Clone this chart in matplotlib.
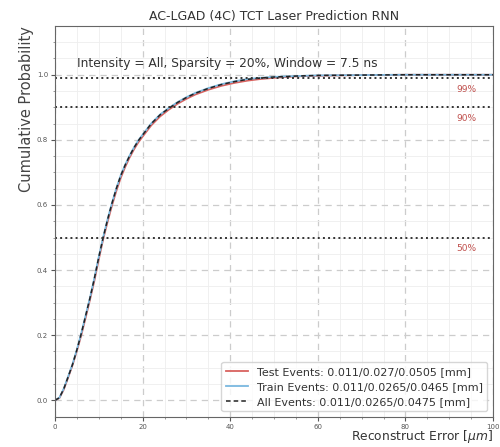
import matplotlib
matplotlib.use("Agg")
import matplotlib.pyplot as plt
import numpy as np

# Data (error in um, cumulative probability)
err_all = [0, 1, 2, 3, 4, 5, 6, 7, 8, 9, 10, 11, 12, 13, 14, 15, 16, 17, 18, 19, 20,
           22, 24, 26, 28, 30, 32, 35, 38, 41, 44, 47, 50, 55, 60, 70, 80, 100]
cdf_all = [0, 0.008, 0.035, 0.072, 0.11, 0.155, 0.205, 0.26, 0.315, 0.375, 0.44, 0.5,
           0.555, 0.605, 0.65, 0.69, 0.722, 0.75, 0.775, 0.797, 0.815, 0.85, 0.877,
           0.897, 0.915, 0.93, 0.943, 0.958, 0.97, 0.979, 0.986, 0.99, 0.993, 0.996,
           0.998, 0.999, 1.0, 1.0]
cdf_test = [0, 0.007, 0.033, 0.07, 0.108, 0.152, 0.2, 0.254, 0.31, 0.368, 0.433, 0.495,
            0.548, 0.598, 0.643, 0.683, 0.716, 0.745, 0.77, 0.792, 0.81, 0.845, 0.872,
            0.893, 0.911, 0.926, 0.939, 0.954, 0.966, 0.975, 0.982, 0.987, 0.9905, 0.995,
            0.997, 0.999, 1.0, 1.0]
cdf_train = [0, 0.008, 0.036, 0.073, 0.111, 0.156, 0.206, 0.261, 0.316, 0.376, 0.441, 0.501,
             0.556, 0.606, 0.651, 0.691, 0.723, 0.751, 0.776, 0.798, 0.816, 0.851, 0.878,
             0.898, 0.916, 0.931, 0.944, 0.959, 0.971, 0.98, 0.987, 0.9905, 0.9935, 0.996,
             0.998, 0.999, 1.0, 1.0]

labels = ["Test Events: 0.011/0.027/0.0505 [mm]",
          "Train Events: 0.011/0.0265/0.0465 [mm]",
          "All Events: 0.011/0.0265/0.0475 [mm]"]
levels = [0.99, 0.9, 0.5]
level_labels = ["99%", "90%", "50%"]

fig = plt.figure(figsize=(5, 4.47), dpi=100)
ax = fig.add_axes([0.11, 0.068, 0.876, 0.874])

ax.plot(err_all, cdf_test, color="#d9625f", lw=1.3, label=labels[0])
ax.plot(err_all, cdf_train, color="#7ab8df", lw=1.3, label=labels[1])
ax.plot(err_all, cdf_all, color="#222222", lw=1.1, ls=(0, (3, 2)), label=labels[2])

for lv, lb in zip(levels, level_labels):
    ax.axhline(lv, color="#333333", ls=":", lw=1.4)
    ax.text(94, lv - 0.035, lb, color="#c0504d", fontsize=6.5, ha="center", va="center")

ax.set_xlim(0, 100)
ax.set_ylim(-0.05, 1.15)
ax.set_xticks([0, 20, 40, 60, 80, 100])
ax.set_yticks([0.0, 0.2, 0.4, 0.6, 0.8, 1.0])
ax.set_xticks(np.arange(0, 101, 5), minor=True)
ax.set_yticks(np.arange(0, 1.15, 0.05), minor=True)
ax.tick_params(axis="both", which="major", labelsize=5, colors="#555555", length=3, pad=2)
ax.tick_params(axis="both", which="minor", length=1.5, colors="#888888")
ax.grid(True, which="major", ls=(0, (5, 4)), color="#cccccc", lw=0.9)
ax.grid(True, which="minor", ls="-", color="#eeeeee", lw=0.6)
for s in ax.spines.values():
    s.set_color("#666666")

ax.set_title("AC-LGAD (4C) TCT Laser Prediction RNN", fontsize=9, color="#333333", pad=4)
ax.set_ylabel("Cumulative Probability", fontsize=10.5, color="#444444", loc="top", labelpad=2)
ax.set_xlabel("Reconstruct Error [$\\mu m$]", fontsize=8.8, color="#333333", loc="right", labelpad=-1)
ax.text(0.05, 0.905, "Intensity = All, Sparsity = 20%, Window = 7.5 ns", transform=ax.transAxes,
        fontsize=8.8, color="#333333", va="center")

leg = ax.legend(loc="lower right", fontsize=8, frameon=True, handlelength=2.0,
                borderaxespad=0.5, labelspacing=0.45)
leg.get_frame().set_edgecolor("#cccccc")
for t in leg.get_texts():
    t.set_color("#333333")

fig.savefig("out.png", dpi=100)
